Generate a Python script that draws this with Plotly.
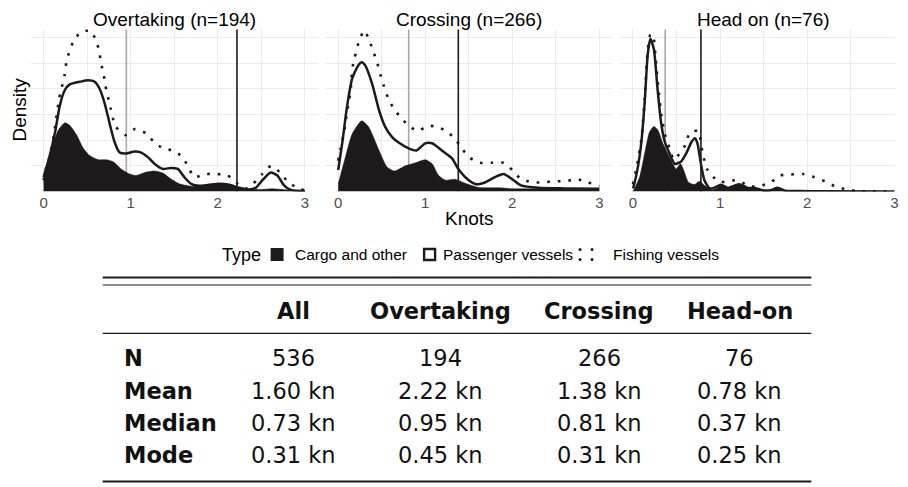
import plotly.graph_objects as go

# The page body has an 8px margin, so the figure is drawn 8px in from the top-left.
OFF = 8
W, H = 908 - OFF, 487 - OFF

panel_titles = ["Overtaking (n=194)", "Crossing (n=266)", "Head on (n=76)"]
medians = [0.95, 0.81, 0.37]
means = [2.22, 1.38, 0.78]

# ---- Overtaking ----
cargo1_x = [0, 0.034, 0.11, 0.17, 0.245, 0.3, 0.38, 0.45, 0.53, 0.625, 0.72, 0.8, 0.89, 0.99, 1.06, 1.18, 1.27, 1.37, 1.46, 1.56, 1.71, 1.86, 2.0, 2.13, 2.25, 2.36, 2.51, 2.63, 2.78, 2.93, 3.0]
cargo1_y = [0.10, 0.24, 0.47, 0.60, 0.67, 0.645, 0.55, 0.43, 0.35, 0.31, 0.31, 0.29, 0.22, 0.17, 0.156, 0.19, 0.20, 0.18, 0.124, 0.075, 0.05, 0.065, 0.075, 0.065, 0.036, 0.02, 0.02, 0.026, 0.016, 0.006, 0.003]
pass1_x = [0, 0.065, 0.13, 0.187, 0.244, 0.301, 0.416, 0.511, 0.587, 0.644, 0.701, 0.759, 0.816, 0.873, 0.949, 1.045, 1.121, 1.197, 1.273, 1.369, 1.464, 1.54, 1.616, 1.693, 1.788, 1.902, 2.017, 2.131, 2.246, 2.36, 2.436, 2.512, 2.608, 2.684, 2.76, 2.836, 3.0]
pass1_y = [0.14, 0.33, 0.57, 0.84, 0.99, 1.045, 1.07, 1.085, 1.07, 1.0, 0.86, 0.66, 0.48, 0.38, 0.37, 0.39, 0.38, 0.335, 0.27, 0.22, 0.23, 0.22, 0.14, 0.075, 0.055, 0.065, 0.075, 0.065, 0.036, 0.02, 0.036, 0.11, 0.185, 0.156, 0.06, 0.016, 0.005]
fish1_x = [0, 0.034, 0.072, 0.1, 0.14, 0.18, 0.21, 0.24, 0.26, 0.29, 0.34, 0.42, 0.53, 0.6, 0.64, 0.66, 0.69, 0.71, 0.74, 0.77, 0.8, 0.83, 0.94, 1.05, 1.17, 1.26, 1.37, 1.48, 1.59, 1.66, 1.73, 1.86, 1.99, 2.11, 2.22, 2.34, 2.51, 2.61, 2.71, 2.8, 2.9, 3.0]
fish1_y = [0.11, 0.25, 0.35, 0.46, 0.68, 0.91, 1.02, 1.13, 1.25, 1.35, 1.46, 1.55, 1.57, 1.48, 1.36, 1.25, 1.14, 1.03, 0.92, 0.81, 0.70, 0.63, 0.55, 0.61, 0.57, 0.49, 0.42, 0.40, 0.34, 0.24, 0.14, 0.17, 0.17, 0.16, 0.08, 0.03, 0.17, 0.25, 0.19, 0.10, 0.04, 0.01]

# ---- Crossing ----
cargo2_x = [0, 0.084, 0.16, 0.27, 0.35, 0.47, 0.56, 0.65, 0.77, 0.89, 1.0, 1.08, 1.15, 1.23, 1.34, 1.46, 1.61, 1.84, 2.03, 2.22, 2.6, 3.0]
cargo2_y = [0.075, 0.34, 0.56, 0.69, 0.63, 0.40, 0.24, 0.20, 0.25, 0.28, 0.31, 0.27, 0.16, 0.11, 0.12, 0.08, 0.04, 0.036, 0.026, 0.026, 0.023, 0.02]
pass2_x = [0, 0.046, 0.1, 0.16, 0.23, 0.27, 0.31, 0.39, 0.47, 0.54, 0.62, 0.69, 0.81, 0.9, 1.0, 1.08, 1.19, 1.31, 1.38, 1.5, 1.59, 1.69, 1.8, 1.9, 2.0, 2.1, 2.3, 2.6, 3.0]
pass2_y = [0.21, 0.47, 0.82, 1.1, 1.23, 1.26, 1.23, 1.05, 0.79, 0.63, 0.53, 0.48, 0.42, 0.40, 0.47, 0.47, 0.40, 0.32, 0.22, 0.11, 0.07, 0.09, 0.14, 0.17, 0.12, 0.06, 0.036, 0.03, 0.026]
fish2_x = [0, 0.027, 0.053, 0.08, 0.095, 0.12, 0.14, 0.153, 0.16, 0.19, 0.24, 0.30, 0.36, 0.41, 0.45, 0.485, 0.52, 0.57, 0.63, 0.71, 0.80, 0.91, 1.03, 1.145, 1.255, 1.355, 1.43, 1.51, 1.63, 1.76, 1.9, 2.01, 2.09, 2.22, 2.36, 2.48, 2.61, 2.74, 2.87, 3.0]
fish2_y = [0.30, 0.42, 0.52, 0.64, 0.74, 0.86, 0.97, 1.08, 1.19, 1.31, 1.47, 1.57, 1.47, 1.35, 1.25, 1.14, 1.04, 0.92, 0.82, 0.73, 0.65, 0.59, 0.64, 0.63, 0.58, 0.50, 0.41, 0.33, 0.28, 0.28, 0.28, 0.20, 0.13, 0.09, 0.09, 0.10, 0.10, 0.12, 0.09, 0.05]

# ---- Head on ----
cargo3_x = [0, 0.076, 0.134, 0.19, 0.24, 0.286, 0.343, 0.40, 0.458, 0.496, 0.546, 0.59, 0.637, 0.706, 0.763, 0.82, 0.9, 0.96, 1.01, 1.09, 1.16, 1.22, 1.32, 1.4, 1.5, 1.58, 1.66, 1.75, 1.9, 2.2, 3.0]
cargo3_y = [0.0, 0.14, 0.37, 0.58, 0.635, 0.60, 0.47, 0.37, 0.27, 0.22, 0.27, 0.19, 0.09, 0.068, 0.10, 0.06, 0.017, 0.03, 0.06, 0.03, 0.05, 0.065, 0.03, 0.03, 0.006, 0.01, 0.033, 0.006, 0.002, 0.0, 0.0]
pass3_x = [0, 0.011, 0.057, 0.095, 0.134, 0.17, 0.2, 0.24, 0.28, 0.32, 0.36, 0.42, 0.48, 0.55, 0.61, 0.67, 0.71, 0.74, 0.78, 0.82, 0.88, 0.93, 1.01, 1.09, 1.16, 1.22, 1.32, 1.4, 1.5, 1.58, 1.66, 1.75, 1.9, 2.2, 3.0]
pass3_y = [0.03, 0.059, 0.24, 0.47, 0.86, 1.34, 1.49, 1.39, 1.02, 0.69, 0.50, 0.37, 0.27, 0.29, 0.37, 0.48, 0.52, 0.47, 0.27, 0.11, 0.03, 0.035, 0.065, 0.035, 0.055, 0.07, 0.035, 0.035, 0.01, 0.013, 0.036, 0.008, 0.004, 0.002, 0.001]
fish3_x = [0, 0.05, 0.1, 0.134, 0.17, 0.2, 0.23, 0.26, 0.29, 0.33, 0.37, 0.42, 0.47, 0.545, 0.6, 0.65, 0.7, 0.75, 0.8, 0.85, 0.9, 1.0, 1.12, 1.23, 1.33, 1.46, 1.58, 1.685, 1.81, 1.95, 2.08, 2.2, 2.32, 2.45, 2.57, 2.7, 3.0]
fish3_y = [0.07, 0.27, 0.53, 0.90, 1.38, 1.53, 1.53, 1.30, 1.02, 0.72, 0.55, 0.42, 0.31, 0.38, 0.45, 0.57, 0.59, 0.59, 0.37, 0.22, 0.16, 0.09, 0.11, 0.10, 0.05, 0.055, 0.088, 0.156, 0.166, 0.17, 0.14, 0.10, 0.05, 0.02, 0.005, 0.002, 0.0]

cargo = [(cargo1_x, cargo1_y), (cargo2_x, cargo2_y), (cargo3_x, cargo3_y)]
passenger = [(pass1_x, pass1_y), (pass2_x, pass2_y), (pass3_x, pass3_y)]
fishing = [(fish1_x, fish1_y), (fish2_x, fish2_y), (fish3_x, fish3_y)]

x_ticks = [0, 1, 2, 3]
x_minor = [0.5, 1.5, 2.5]
y_grid = [0, 0.25, 0.5, 0.75, 1.0, 1.25, 1.5]
y_max = 1.582

legend_labels = ["Cargo and other", "Passenger vessels", "Fishing vessels"]

table_cols = ["All", "Overtaking", "Crossing", "Head-on"]
table_rows = ["N", "Mean", "Median", "Mode"]
table_vals = [
    ["536", "194", "266", "76"],
    ["1.60 kn", "2.22 kn", "1.38 kn", "0.78 kn"],
    ["0.73 kn", "0.95 kn", "0.81 kn", "0.37 kn"],
    ["0.31 kn", "0.45 kn", "0.31 kn", "0.25 kn"],
]

# ---------------- layout helpers (page pixel -> paper) ----------------
def px(x):
    return (x - OFF) / W

def py(y):
    return 1 - (y - OFF) / H

INK = "#1c1a1a"
PLOT_FONT = "Liberation Sans, Arial, sans-serif"
TABLE_FONT = "DejaVu Sans, sans-serif"

panel_px = [(30.6, 319.0), (326.2, 614.4), (621.9, 898.3)]
x_ranges = [[-0.15, 3.15], [-0.15, 3.15], [-0.15, 3.01]]
y_dom = [py(191.5), py(29.3)]

fig = go.Figure()

for i in range(3):
    xa = "x" if i == 0 else f"x{i+1}"
    ya = "y" if i == 0 else f"y{i+1}"
    fig.add_trace(go.Scatter(x=[medians[i], medians[i]], y=[0, y_max], mode="lines",
                             line=dict(color="#a8a8a8", width=1.6), xaxis=xa, yaxis=ya,
                             showlegend=False, hoverinfo="skip"))
    fig.add_trace(go.Scatter(x=[means[i], means[i]], y=[0, y_max], mode="lines",
                             line=dict(color=INK, width=1.6), xaxis=xa, yaxis=ya,
                             showlegend=False, hoverinfo="skip"))
    cx, cy = cargo[i]
    fig.add_trace(go.Scatter(x=cx, y=cy, mode="lines", fill="tozeroy", fillcolor=INK,
                             line=dict(color=INK, width=0.5, shape="spline", smoothing=0.6),
                             xaxis=xa, yaxis=ya, showlegend=False, name=legend_labels[0]))
    pxs, pys = passenger[i]
    fig.add_trace(go.Scatter(x=pxs, y=pys, mode="lines",
                             line=dict(color=INK, width=2.5, shape="spline", smoothing=0.6),
                             xaxis=xa, yaxis=ya, showlegend=False, name=legend_labels[1]))
    fx, fy = fishing[i]
    fig.add_trace(go.Scatter(x=fx, y=fy, mode="lines",
                             line=dict(color=INK, width=2.6, dash="2.6px,8px", shape="spline", smoothing=0.6),
                             xaxis=xa, yaxis=ya, showlegend=False, name=legend_labels[2]))

layout = dict(width=W, height=H, margin=dict(l=0, r=0, t=0, b=0),
              plot_bgcolor="white", paper_bgcolor="white", showlegend=False,
              font=dict(family=PLOT_FONT, color="black"))
for i in range(3):
    xk = "xaxis" if i == 0 else f"xaxis{i+1}"
    yk = "yaxis" if i == 0 else f"yaxis{i+1}"
    layout[xk] = dict(domain=[px(panel_px[i][0]), min(1.0, px(panel_px[i][1]))], range=x_ranges[i],
                      tickmode="array", tickvals=x_ticks, ticktext=[str(t) for t in x_ticks],
                      showgrid=True, gridcolor="#ebebeb", gridwidth=1, zeroline=False,
                      showline=False, ticks="", tickfont=dict(size=15, color="#4d4d4d"),
                      minor=dict(tickvals=x_minor, showgrid=True, gridcolor="#ebebeb", gridwidth=1),
                      anchor="y" if i == 0 else f"y{i+1}", fixedrange=True)
    layout[yk] = dict(domain=y_dom, range=[0, y_max], tickmode="array", tickvals=y_grid,
                      showticklabels=False, showgrid=True, gridcolor="#ebebeb", gridwidth=1,
                      zeroline=False, showline=False, ticks="",
                      anchor="x" if i == 0 else f"x{i+1}", fixedrange=True)

annotations = []
shapes = []
for i in range(3):
    cxp = panel_px[i][0] + 288.4 / 2
    annotations.append(dict(text=panel_titles[i], x=px(cxp), y=1.0, xref="paper", yref="paper",
                            showarrow=False, xanchor="center", yanchor="top", borderpad=0,
                            font=dict(size=19, family=PLOT_FONT, color="black")))
annotations.append(dict(text="Knots", x=px(471), y=py(218), xref="paper", yref="paper",
                        showarrow=False, xanchor="center", yanchor="middle",
                        font=dict(size=19, family=PLOT_FONT, color="black")))
annotations.append(dict(text="Density", x=0.0, y=py(110), xref="paper", yref="paper",
                        showarrow=False, xanchor="left", yanchor="middle", textangle=-90, borderpad=0,
                        font=dict(size=19, family=PLOT_FONT, color="black")))

# legend (drawn manually to mimic ggplot keys)
LY = 254.5
annotations.append(dict(text="Type", x=px(221), y=py(LY), xref="paper", yref="paper",
                        showarrow=False, xanchor="left", yanchor="middle",
                        font=dict(size=18, family=PLOT_FONT, color="black")))
shapes.append(dict(type="rect", xref="paper", yref="paper", x0=px(271.5), x1=px(284.5),
                   y0=py(LY + 6.5), y1=py(LY - 6.5), fillcolor=INK, line=dict(width=0)))
annotations.append(dict(text=legend_labels[0], x=px(294), y=py(LY), xref="paper", yref="paper",
                        showarrow=False, xanchor="left", yanchor="middle",
                        font=dict(size=15.5, family=PLOT_FONT, color="black")))
shapes.append(dict(type="rect", xref="paper", yref="paper", x0=px(425.5), x1=px(436.5),
                   y0=py(LY + 5.5), y1=py(LY - 5.5), fillcolor="white", line=dict(width=2.4, color=INK)))
annotations.append(dict(text=legend_labels[1], x=px(442), y=py(LY), xref="paper", yref="paper",
                        showarrow=False, xanchor="left", yanchor="middle",
                        font=dict(size=15.5, family=PLOT_FONT, color="black")))
for dx in (582, 594):
    for dy in (LY - 5, LY + 5):
        shapes.append(dict(type="circle", xref="paper", yref="paper", x0=px(dx - 1.5), x1=px(dx + 1.5),
                           y0=py(dy + 1.5), y1=py(dy - 1.5), fillcolor=INK, line=dict(width=0)))
annotations.append(dict(text=legend_labels[2], x=px(613), y=py(LY), xref="paper", yref="paper",
                        showarrow=False, xanchor="left", yanchor="middle",
                        font=dict(size=15.5, family=PLOT_FONT, color="black")))

# table
TX0, TX1 = 103, 814
for yy, lw in ((277.5, 2.2), (285.0, 1.2), (333.3, 1.2), (481.5, 2.2)):
    shapes.append(dict(type="line", xref="paper", yref="paper", x0=px(TX0), x1=px(TX1),
                       y0=py(yy), y1=py(yy), line=dict(color=INK, width=lw)))
col_cx = [294, 442, 601, 742]
row_cy = [358.3, 390.6, 422.9, 455.2]
HEAD_Y = 311.0
TFS = 22.5
for j, c in enumerate(table_cols):
    annotations.append(dict(text="<b>%s</b>" % c, x=px(col_cx[j]), y=py(HEAD_Y), xref="paper", yref="paper",
                            showarrow=False, xanchor="center", yanchor="middle",
                            font=dict(size=TFS, family=TABLE_FONT, color="#111")))
for r, rl in enumerate(table_rows):
    annotations.append(dict(text="<b>%s</b>" % rl, x=px(122), y=py(row_cy[r]), xref="paper", yref="paper",
                            showarrow=False, xanchor="left", yanchor="middle",
                            font=dict(size=TFS, family=TABLE_FONT, color="#111")))
    for j in range(4):
        annotations.append(dict(text=table_vals[r][j], x=px(col_cx[j]), y=py(row_cy[r]), xref="paper", yref="paper",
                                showarrow=False, xanchor="center", yanchor="middle",
                                font=dict(size=TFS, family=TABLE_FONT, color="#111")))

layout["annotations"] = annotations
layout["shapes"] = shapes
fig.update_layout(**layout)

fig.write_html("out.html")
